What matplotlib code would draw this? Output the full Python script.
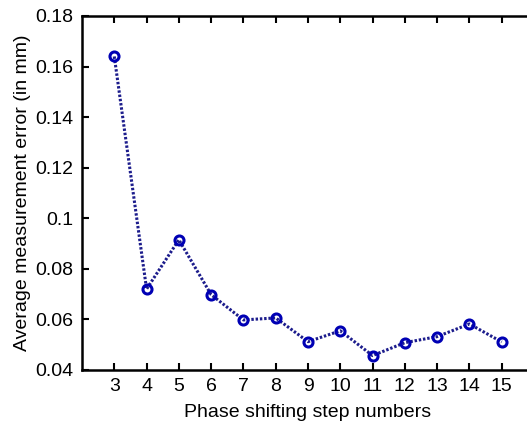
import numpy as np
import matplotlib
matplotlib.use("Agg")
import matplotlib.pyplot as plt

plt.rcParams['font.family'] = ['Liberation Sans', 'DejaVu Sans']

# datos
steps = [3, 4, 5, 6, 7, 8, 9, 10, 11, 12, 13, 14, 15]
error_mm = [0.164, 0.072, 0.0915, 0.0698, 0.0598, 0.0606, 0.0512, 0.0555,
            0.0457, 0.0508, 0.0532, 0.0582, 0.0511]
yticks = [0.04, 0.06, 0.08, 0.1, 0.12, 0.14, 0.16, 0.18]
ytick_labels = ['0.04', '0.06', '0.08', '0.1', '0.12', '0.14', '0.16', '0.18']

fig = plt.figure(figsize=(5.27, 4.22), dpi=100)
# el eje derecho queda fuera de la imagen, como en el original
ax = fig.add_axes([82/527, 1 - 370/422, (534 - 82)/527, (370 - 16)/422])

ax.plot(steps, error_mm, linestyle=(0, (0.8, 0.6)), color='#1c1c8c', linewidth=2.2,
        marker='o', markersize=6.5, markerfacecolor='none',
        markeredgecolor='#0000b4', markeredgewidth=2.2)

ax.set_xlim(2, 16)
ax.set_ylim(0.04, 0.18)
ax.set_xticks(steps)
ax.set_yticks(yticks)
ax.set_yticklabels(ytick_labels)
ax.tick_params(direction='in', top=True, right=False, labelsize=14,
               length=5, width=1.5, pad=6)
for s in ax.spines.values():
    s.set_linewidth(1.8)
ax.spines['right'].set_visible(False)

ax.set_xlabel('Phase shifting step numbers', fontsize=14, labelpad=6)
ax.set_ylabel('Average measurement error (in mm)', fontsize=14, labelpad=3)

fig.savefig('out.png', dpi=100)
